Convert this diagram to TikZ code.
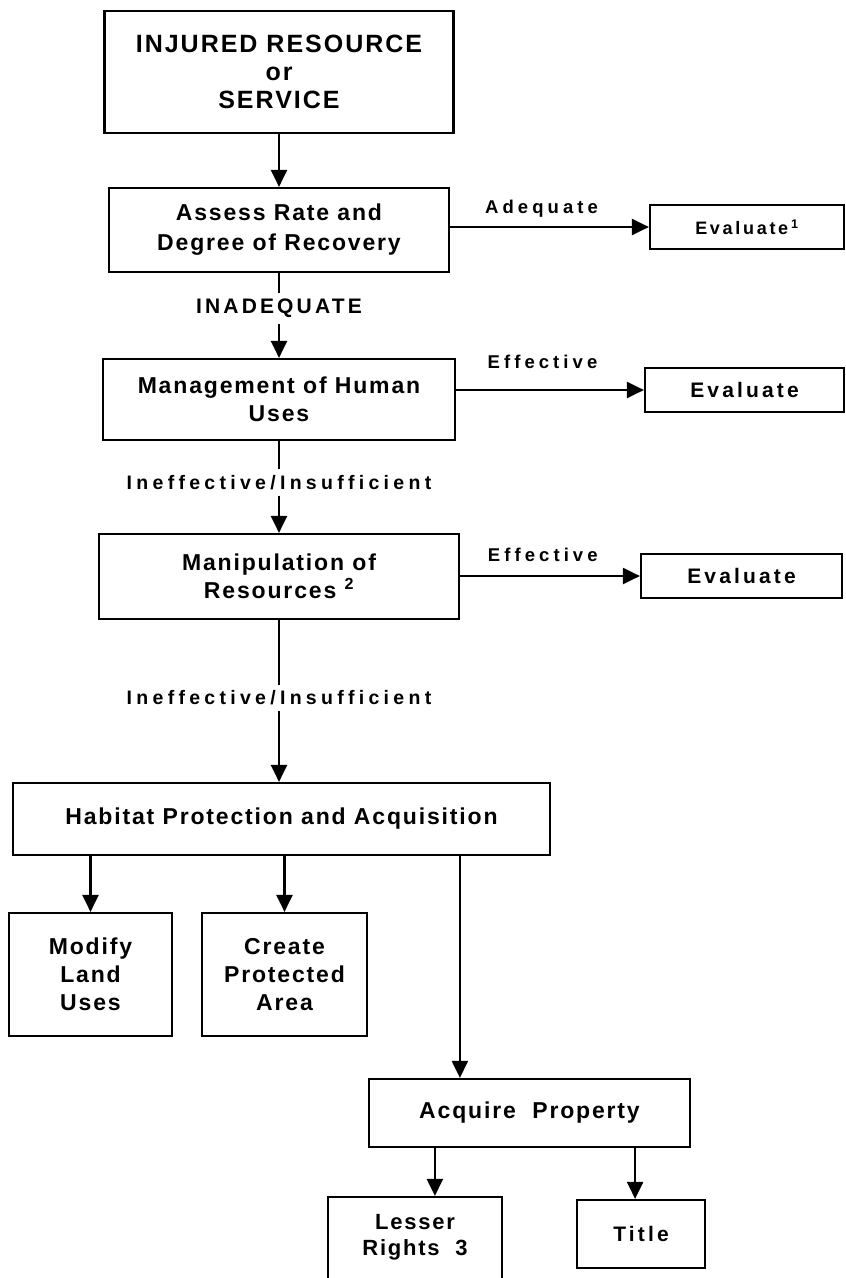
\documentclass[tikz,border=0pt]{standalone}
\usepackage{fontspec}
\setmainfont{Liberation Sans}
\newfontfamily\boxfont{Liberation Sans}[LetterSpace=8]
\newfontfamily\evalfont{Liberation Sans}[LetterSpace=15]
\newfontfamily\labelfont{Liberation Sans}[LetterSpace=22]
\usetikzlibrary{arrows.meta}

\begin{document}
\begin{tikzpicture}[x=1pt, y=-1pt,
    box/.style={draw, line width=2.2pt, align=center, inner sep=0pt,
        font=\boxfont\bfseries\fontsize{23}{28}\selectfont},
    evalbox/.style={box, minimum height=44pt,
        font=\evalfont\bfseries\fontsize{21}{24}\selectfont},
    flow/.style={line width=2.2pt, -{Triangle[width=16pt,length=17pt]}},
    lbl/.style={font=\labelfont\bfseries\fontsize{18.5}{22}\selectfont, inner sep=0pt},
    gaplbl/.style={lbl, fill=white, inner xsep=2pt, inner ysep=6pt}]

    \useasboundingbox (0,0) rectangle (846,1278);
    \clip (0,0) rectangle (846,1278);

    % Main column
    \node[box, minimum width=349pt, minimum height=122pt,
        font=\boxfont\bfseries\fontsize{25}{28}\selectfont] (injured) at (279,72)
        {INJURED RESOURCE\\or\\SERVICE};
    \node[box, minimum width=340pt, minimum height=84pt,
        font=\boxfont\bfseries\fontsize{23}{30}\selectfont] (assess) at (279,230)
        {Assess\ Rate\ and\\Degree\ of\ Recovery};
    \node[box, minimum width=352pt, minimum height=81pt] (humanuses) at (279,399.5)
        {Management\ of\ Human\\Uses};
    \node[box, minimum width=360pt, minimum height=85pt] (manipulate) at (279,576.5)
        {Manipulation\ of\\Resources \textsuperscript{2}};

    % Evaluate boxes on the right
    \node[evalbox, minimum width=194pt,
        font=\evalfont\bfseries\fontsize{18}{22}\selectfont] (evalA) at (747,227)
        {Evaluate\,\textsuperscript{1}};
    \node[evalbox, minimum width=199pt] (evalB) at (744.5,390) {Evaluate};
    \node[evalbox, minimum width=201pt] (evalC) at (741.5,576) {Evaluate};

    % Habitat protection and what follows from it
    \node[box, minimum width=537pt, minimum height=72pt] (habitat) at (281.5,819)
        {Habitat Protection and Acquisition};
    \node[box, minimum width=163pt, minimum height=123pt] (landuse) at (90.5,974.5)
        {Modify\\Land\\Uses};
    \node[box, minimum width=165pt, minimum height=123pt] (protarea) at (284.5,974.5)
        {Create\\Protected\\Area};
    \node[box, minimum width=321pt, minimum height=68pt] (acquire) at (529.5,1113)
        {Acquire\ \ Property};
    \node[box, minimum width=174pt, minimum height=128pt,
        font=\boxfont\bfseries\fontsize{22}{26}\selectfont] (lesser) at (415,1261)
        {Lesser\\Rights\ \ 3\\\vphantom{X}\\\vphantom{X}};
    \node[box, minimum width=128pt, minimum height=68pt,
        font=\evalfont\bfseries\fontsize{21}{24}\selectfont] (title) at (641,1234) {Title};

    % Down the main column
    \draw[flow] (injured) -- (assess);
    \draw[flow] (assess) -- node[gaplbl, pos=0.42,
        font=\evalfont\bfseries\fontsize{21}{24}\selectfont] {INADEQUATE} (humanuses);
    \draw[flow] (humanuses) -- node[gaplbl, pos=0.45,
        font=\labelfont\bfseries\fontsize{19.5}{22}\selectfont] {Ineffective/Insufficient} (manipulate);
    \draw[flow] (manipulate) -- node[gaplbl, pos=0.48,
        font=\labelfont\bfseries\fontsize{19.5}{22}\selectfont] {Ineffective/Insufficient} (manipulate |- habitat.north);

    % Across to the evaluations
    \draw[flow] (assess.east |- evalA) -- node[lbl, above=9pt, pos=0.46] {Adequate} (evalA);
    \draw[flow] (humanuses.east |- evalB) -- node[lbl, above=20pt, pos=0.46] {Effective} (evalB);
    \draw[flow] (manipulate.east |- evalC) -- node[lbl, above=13pt, pos=0.46] {Effective} (evalC);

    % Branches of habitat protection
    \draw[flow] (landuse.north |- habitat.south) -- (landuse);
    \draw[flow] (protarea.north |- habitat.south) -- (protarea);
    \coordinate (acqtop) at ([xshift=92pt]acquire.north west);
    \draw[flow] (acqtop |- habitat.south) -- (acqtop);

    % Ways to acquire property
    \coordinate (lessertop) at ([xshift=67pt]acquire.south west);
    \coordinate (titletop) at ([xshift=-56pt]acquire.south east);
    \draw[flow] (lessertop) -- (lessertop |- lesser.north);
    \draw[flow] (titletop) -- (titletop |- title.north);

\end{tikzpicture}
\end{document}
